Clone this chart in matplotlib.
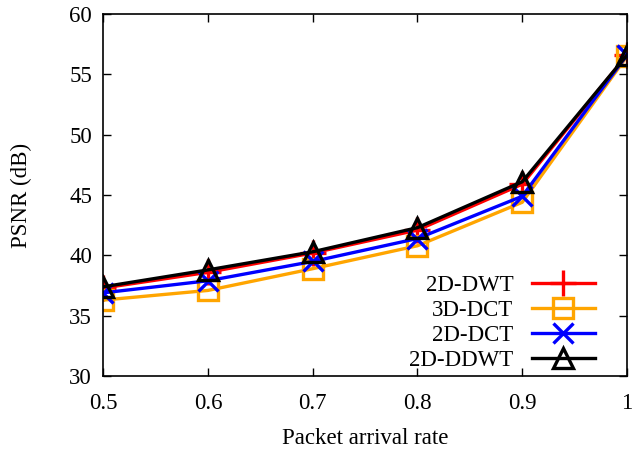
import matplotlib
matplotlib.use("Agg")

import matplotlib.pyplot as plt

rate = [0.5, 0.6, 0.7, 0.8, 0.9, 1.0]
psnr_2d_dwt = [37.3, 38.6, 40.2, 42.1, 45.9, 56.6]
psnr_3d_dct = [36.3, 37.1, 38.9, 40.8, 44.4, 56.5]
psnr_2d_dct = [36.9, 37.9, 39.5, 41.4, 44.9, 56.6]
psnr_2d_ddwt = [37.4, 38.8, 40.3, 42.3, 46.1, 56.6]

x_ticks = [0.5, 0.6, 0.7, 0.8, 0.9, 1.0]
x_tick_labels = ["0.5", "0.6", "0.7", "0.8", "0.9", "1"]
y_ticks = [30, 35, 40, 45, 50, 55, 60]

plt.rcParams["font.family"] = ["Liberation Serif", "DejaVu Serif"]
plt.rcParams["font.size"] = 16.5

fig = plt.figure(figsize=(6.33, 4.51), dpi=100)
ax = fig.add_axes([0.163, 0.166, 0.8275, 0.803])

series = [
    ("2D-DWT", psnr_2d_dwt, "red", "+"),
    ("3D-DCT", psnr_3d_dct, "#FFA500", "s"),
    ("2D-DCT", psnr_2d_dct, "blue", "x"),
    ("2D-DDWT", psnr_2d_ddwt, "black", "^"),
]
sizes = {"+": 19, "s": 15, "x": 15, "^": 15}
for label, vals, color, marker in series:
    ax.plot(rate, vals, color=color, lw=2.4, marker=marker,
            markersize=sizes[marker], markerfacecolor="none",
            markeredgecolor=color, markeredgewidth=2.4, label=label)

ax.set_xlim(0.5, 1.0)
ax.set_ylim(30, 60)
ax.set_xticks(x_ticks)
ax.set_xticklabels(x_tick_labels)
ax.set_yticks(y_ticks)
ax.tick_params(direction="in", length=6, width=1, top=True, right=True, pad=8)
ax.tick_params(axis="x", pad=12)
for s in ax.spines.values():
    s.set_linewidth(1.2)

ax.set_xlabel("Packet arrival rate", labelpad=10)
ax.set_ylabel("PSNR (dB)", labelpad=27)

ax.legend(loc="lower right", frameon=False, markerfirst=False,
          handlelength=2.75, handletextpad=0.8, labelspacing=0.18,
          borderaxespad=0.2, bbox_to_anchor=(0.965, -0.025))

fig.savefig("out.png", dpi=100)
